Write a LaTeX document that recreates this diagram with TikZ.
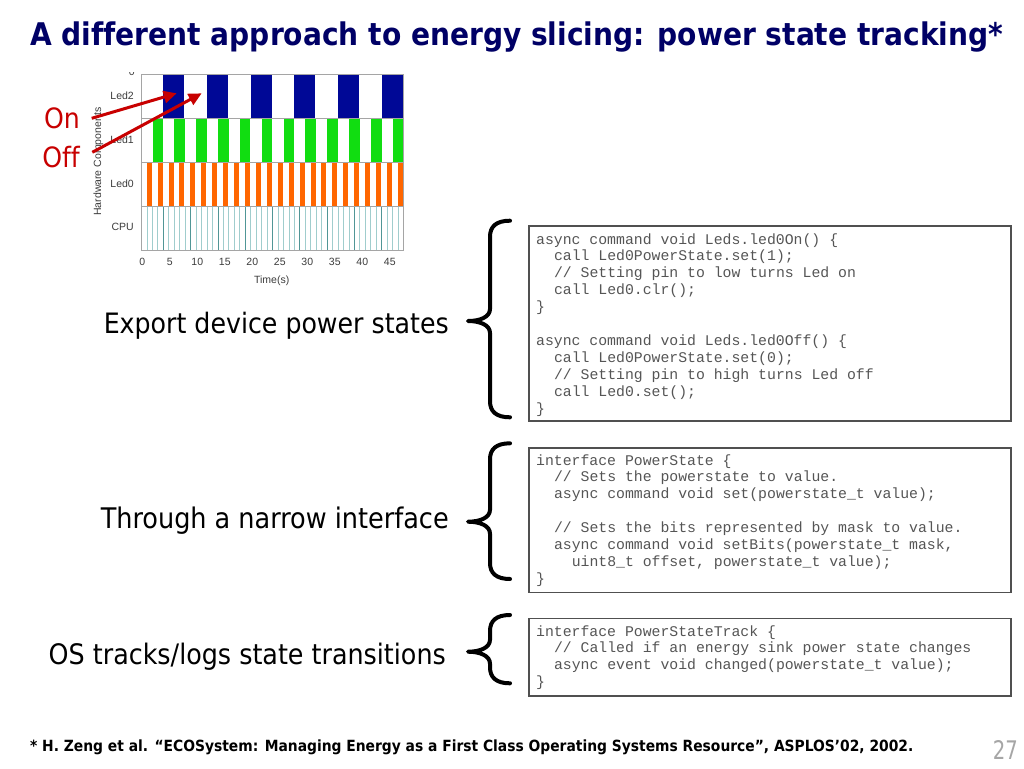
\documentclass[tikz,border=0pt]{standalone}
\usepackage{fontspec}
\usepackage{graphicx}
\usetikzlibrary{arrows.meta}
\newfontfamily\slidefont[Extension=.ttf,BoldFont=DejaVuSansCondensed-Bold,Ligatures=CommonOff]{DejaVuSansCondensed}
\newfontfamily\chartfont{Liberation Sans}
\newfontfamily\codefont{Liberation Mono}
\definecolor{titleblue}{RGB}{0,0,102}
\definecolor{ledblue}{RGB}{0,8,150}
\definecolor{ledgreen}{RGB}{17,221,17}
\definecolor{ledorange}{RGB}{255,102,0}
\definecolor{cpulight}{RGB}{160,205,205}
\definecolor{cpudark}{RGB}{80,150,150}
\definecolor{codegray}{RGB}{85,85,85}
\definecolor{boxgray}{RGB}{80,80,80}
\definecolor{slidered}{RGB}{200,0,0}
\definecolor{framegray}{RGB}{165,165,165}
\definecolor{pagegray}{RGB}{166,166,166}
\definecolor{chartgray}{RGB}{60,60,60}
\newcommand\codeln[4]{\node[code] (#1) at ({536+8.9*#2},#3) {#4};}
\newcommand\slbrace[3]{%
  \draw[bracestyle] (510,#1) .. controls (496,#1) and (490,#1+6) .. (490,#1+16)
    -- (490,#2-12) .. controls (490,#2-4) and (480,#2) .. (468,#2)
    .. controls (480,#2) and (490,#2+4) .. (490,#2+12)
    -- (490,#3-16) .. controls (490,#3-6) and (496,#3) .. (510,#3);}
\begin{document}
\begin{tikzpicture}[x=1pt,y=-1pt,
  chartlbl/.style={font=\chartfont\fontsize{10.5}{12}\selectfont, text=chartgray, inner sep=0},
  code/.style={anchor=base west, inner sep=0, font=\codefont\fontsize{14.8}{17}\selectfont, text=codegray},
  codebox/.style={draw=boxgray, line width=1.5pt, fill=white, anchor=north west, inner sep=0},
  bracestyle/.style={line width=4pt, line cap=round, line join=round, black},
  redarrow/.style={draw=slidered, line width=3pt, -{Triangle[length=13pt,width=12pt]}},
  sidelabel/.style={anchor=base east, inner sep=0, text=black},
  redlabel/.style={anchor=base east, inner sep=0, text=slidered, font=\slidefont\fontsize{28}{30}\selectfont}]
\useasboundingbox (0,0) rectangle (1024,768);
\fill[white] (0,0) rectangle (1024,768);

% title
\node[anchor=base west, inner sep=0, text=titleblue] (title) at (30,45.5)
  {\resizebox{973pt}{!}{\slidefont\bfseries A different approach to energy slicing: power state tracking*}};

% chart
\begin{scope}
\clip (141.7,74) rectangle (403,250);
\foreach \k in {0,...,5} \fill[ledblue] ({163.3+43.7*\k},74) rectangle ++(20.8,44);
\foreach \k in {0,...,11} \fill[ledgreen] ({152.5+21.85*\k},118) rectangle ++(10.5,44);
\foreach \k in {0,...,23} \fill[ledorange] ({146.7+10.92*\k},162) rectangle ++(5,44);
\foreach \k in {0,...,46} {
  \pgfmathtruncatemacro\mk{mod(\k,5)}
  \ifnum\mk=3
    \draw[cpudark, line width=0.9pt] ({147+5.46*\k},206) -- ++(0,44);
  \else
    \draw[cpulight, line width=0.9pt] ({147+5.46*\k},206) -- ++(0,44);
  \fi
}
\end{scope}
\draw[framegray, line width=0.8pt] (141.7,74) rectangle (403,250);
\foreach \yy in {118,162,206} \draw[framegray, line width=0.8pt] (141.7,\yy) -- (403,\yy);

\begin{scope}
\clip (120,72.5) rectangle (145,80);
\node[chartlbl] (topzero) at (131.7,72) {0};
\end{scope}
\node[chartlbl, anchor=east] (lled2) at (134,96) {Led2};
\node[chartlbl, anchor=east] (lled1) at (134,140) {Led1};
\node[chartlbl, anchor=east] (lled0) at (134,183.5) {Led0};
\node[chartlbl, anchor=east] (lcpu) at (134,227) {CPU};
\node[chartlbl, rotate=90] (yaxis) at (98.3,161.7) {Hardware Components};
\foreach \t [count=\i from 0] in {0,5,10,15,20,25,30,35,40,45}
  \node[chartlbl] (tick\i) at ({142.3+27.5*\i},261.7) {\t};
\node[chartlbl] (xaxis) at (271.7,280.7) {Time(s)};

% On / Off
\node[redlabel] (onlbl) at (80,128) {On};
\node[redlabel] (offlbl) at (80,167) {Off};
\coordinate (onS) at (91.7,118.3);
\coordinate (onE) at (176.7,93.3);
\coordinate (offS) at (92.3,152.3);
\coordinate (offE) at (201.7,93.3);
\draw[redarrow] (onS) -- (onE);
\draw[redarrow] (offS) -- (offE);

% code boxes
\node[codebox, minimum width=482pt, minimum height=195pt] (box1) at (528,225) {};
\node[codebox, minimum width=482pt, minimum height=144.4pt] (box2) at (528,447.3) {};
\node[codebox, minimum width=482pt, minimum height=77.3pt] (box3) at (528,617.7) {};

\codeln{a0}{0}{244}{async command void Leds.led0On() \{}
\codeln{a1}{2}{260.9}{call Led0PowerState.set(1);}
\codeln{a2}{2}{277.8}{// Setting pin to low turns Led on}
\codeln{a3}{2}{294.7}{call Led0.clr();}
\codeln{a4}{0}{311.6}{\}}
\codeln{a6}{0}{345.4}{async command void Leds.led0Off() \{}
\codeln{a7}{2}{362.3}{call Led0PowerState.set(0);}
\codeln{a8}{2}{379.2}{// Setting pin to high turns Led off}
\codeln{a9}{2}{396.1}{call Led0.set();}
\codeln{a10}{0}{413}{\}}

\codeln{b0}{0}{465}{interface PowerState \{}
\codeln{b1}{2}{481.9}{// Sets the powerstate to value.}
\codeln{b2}{2}{498.8}{async command void set(powerstate\_t value);}
\codeln{b4}{2}{532.6}{// Sets the bits represented by mask to value.}
\codeln{b5}{2}{549.5}{async command void setBits(powerstate\_t mask,}
\codeln{b6}{4}{566.4}{uint8\_t offset, powerstate\_t value);}
\codeln{b7}{0}{583.3}{\}}

\codeln{c0}{0}{636}{interface PowerStateTrack \{}
\codeln{c1}{2}{652.9}{// Called if an energy sink power state changes}
\codeln{c2}{2}{669.8}{async event void changed(powerstate\_t value);}
\codeln{c3}{0}{686.7}{\}}

% braces
\slbrace{220.7}{321}{417.3}
\slbrace{443.3}{521.7}{579}
\slbrace{615}{651.7}{683.3}

% side labels
\node[sidelabel] (lbl1) at (449,333) {\resizebox{345pt}{!}{\slidefont Export device power states}};
\node[sidelabel] (lbl2) at (449,528) {\resizebox{348pt}{!}{\slidefont Through a narrow interface}};
\node[sidelabel] (lbl3) at (446,664) {\resizebox{397pt}{!}{\slidefont OS tracks/logs state transitions}};

% footer
\node[anchor=base west, inner sep=0] (footer) at (30,751)
  {\resizebox{883pt}{!}{\slidefont\bfseries * H. Zeng et al. “ECOSystem: Managing Energy as a First Class Operating Systems Resource”, ASPLOS’02, 2002.}};
\node[anchor=base east, inner sep=0, text=pagegray] (pagenum) at (1018,759)
  {\resizebox{25pt}{19pt}{\slidefont 27}};
\end{tikzpicture}
\end{document}
